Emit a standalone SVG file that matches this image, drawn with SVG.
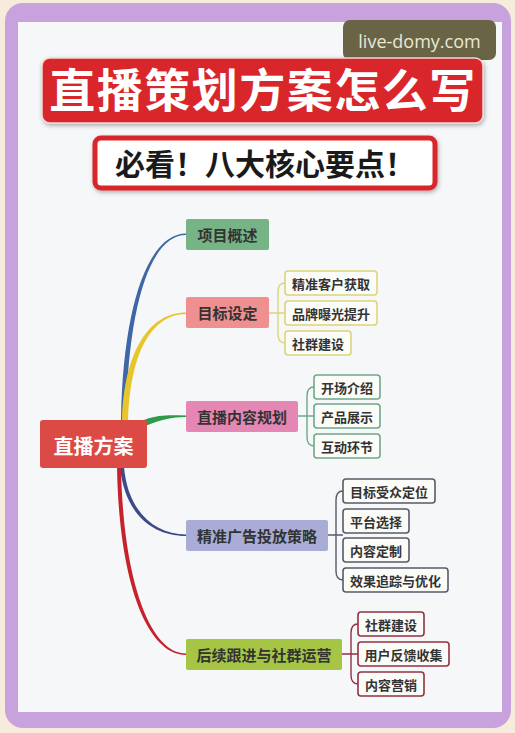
<svg xmlns="http://www.w3.org/2000/svg" width="515" height="733" viewBox="0 0 515 733">
<defs>
<filter id="sh" x="-10%" y="-20%" width="120%" height="150%"><feDropShadow dx="1" dy="2" stdDeviation="2" flood-color="#000" flood-opacity="0.3"/></filter>
<style>
.cjk{font-family:"Noto Sans CJK SC","Noto Sans",sans-serif;font-weight:700;}
.l1 text{font-size:15px;fill:#333;text-anchor:middle;dominant-baseline:central;}
.l2 text{font-size:13px;fill:#333;text-anchor:middle;dominant-baseline:central;}
.l1 rect{rx:2px;}
.l2 rect{fill:#fbfbf7;stroke-width:1.6;rx:3px;}
.y rect{stroke:#ddd47a;}
.g rect{stroke:#6ea88c;}
.n rect{stroke:#575b68;}
.m rect{stroke:#943043;}
.br{fill:none;stroke-width:1.4;}
</style>
</defs>
<rect x="0" y="0" width="515" height="733" fill="#f7ebdb"/>
<rect x="5" y="3" width="506" height="725" rx="18" fill="#c8a2dc"/>
<rect x="18" y="22" width="484" height="690" fill="#f6f7f9"/>

<g id="watermark">
<rect x="343" y="20" width="153" height="40" rx="7" fill="#6a6446"/>
<text x="419.5" y="48" font-family="'Open Sans','Noto Sans',sans-serif" font-size="18" fill="#ebe7d5" text-anchor="middle">live-domy.com</text>
</g>

<g id="title">
<rect x="42" y="58" width="441" height="65" rx="8" fill="#d9262b" stroke="#f3d6d6" stroke-width="1.5" filter="url(#sh)"/>
<text x="263" y="107" class="cjk" font-size="46" font-weight="900" fill="#fff" text-anchor="middle" letter-spacing="1.5">直播策划方案怎么写</text>
</g>
<g id="subtitle">
<rect x="95" y="138" width="340" height="50" rx="6" fill="#fff" stroke="#d9262b" stroke-width="5" filter="url(#sh)"/>
<text x="265" y="175" class="cjk" font-size="30" font-weight="900" fill="#1a1a1a" text-anchor="middle">必看！八大核心要点！</text>
</g>

<g id="connectors">
<path d="M121,421 C123,300 150,233.5 186,233.5 L186,235 C152,235 128,300 126,421 Z" fill="#3f67a6"/>
<path d="M122,421 C124,350 150,312.5 186,312.5 L186,314 C152,314 130,352 128,421 Z" fill="#e8c52a"/>
<path d="M144,420 C160,414 172,415.5 186,415.5 L186,417 C172,417 160,420 145,426 Z" fill="#2e9a4a"/>
<path d="M124,467 C128,512 155,534.5 186,534.5 L186,536 C153,536 125,515 120,467 Z" fill="#3c4a8a"/>
<path d="M121,467 C123,580 150,653.5 186,653.5 L186,655 C148,655 119,585 117,467 Z" fill="#c7222c"/>
<g class="br" stroke="#ddd47a">
<path d="M269,313 H285 M285,283 C280,283 278,286 278,292 V334 C278,340 280,343 285,343"/>
</g>
<g class="br" stroke="#6ea88c">
<path d="M298,416 H314 M314,387 C309,387 307,390 307,396 V437 C307,443 309,446 314,446"/>
</g>
<g class="br" stroke="#575b68">
<path d="M328,535 H343 M343,491 C338,491 336,494 336,500 V571 C336,577 338,580 343,580"/>
</g>
<g class="br" stroke="#943043">
<path d="M342,654 H358 M358,624 C353,624 351,627 351,633 V675 C351,681 353,684 358,684"/>
</g>
</g>

<g id="root">
<rect x="40" y="420" width="107" height="48" rx="3" fill="#dc4a45"/>
<text x="93.5" y="445" class="cjk" font-size="20" fill="#fff" text-anchor="middle" dominant-baseline="central">直播方案</text>
</g>

<g class="l1 cjk">
<g id="n-xmgs"><rect x="186" y="219" width="83" height="31" fill="#76b485"/><text x="227.5" y="234.5">项目概述</text></g>
<g id="n-mbsd"><rect x="186" y="297" width="83" height="31" fill="#ef8f8f"/><text x="227.5" y="312.5">目标设定</text></g>
<g id="n-zbnr"><rect x="186" y="401" width="112" height="31" fill="#e587b5"/><text x="242" y="416.5">直播内容规划</text></g>
<g id="n-jzgg"><rect x="186" y="520" width="142" height="31" fill="#a9acd5"/><text x="257" y="535.5">精准广告投放策略</text></g>
<g id="n-hxgj"><rect x="186" y="639" width="156" height="31" fill="#a6c545"/><text x="264" y="654.5">后续跟进与社群运营</text></g>
</g>

<g class="l2 cjk">
<g id="c1" class="y"><rect x="285" y="271" width="92" height="24"/><text x="331" y="283">精准客户获取</text></g>
<g id="c2" class="y"><rect x="285" y="301" width="92" height="24"/><text x="331" y="313">品牌曝光提升</text></g>
<g id="c3" class="y"><rect x="285" y="331" width="66" height="24"/><text x="318" y="343">社群建设</text></g>
<g id="c4" class="g"><rect x="314" y="375" width="66" height="24"/><text x="347" y="387">开场介绍</text></g>
<g id="c5" class="g"><rect x="314" y="404" width="66" height="24"/><text x="347" y="416">产品展示</text></g>
<g id="c6" class="g"><rect x="314" y="434" width="66" height="24"/><text x="347" y="446">互动环节</text></g>
<g id="c7" class="n"><rect x="343" y="479" width="92" height="24"/><text x="389" y="491">目标受众定位</text></g>
<g id="c8" class="n"><rect x="343" y="509" width="66" height="24"/><text x="376" y="521">平台选择</text></g>
<g id="c9" class="n"><rect x="343" y="538" width="66" height="24"/><text x="376" y="550">内容定制</text></g>
<g id="c10" class="n"><rect x="343" y="568" width="105" height="24"/><text x="395.5" y="580">效果追踪与优化</text></g>
<g id="c11" class="m"><rect x="358" y="612" width="66" height="24"/><text x="391" y="624">社群建设</text></g>
<g id="c12" class="m"><rect x="358" y="642" width="91" height="24"/><text x="403.5" y="654">用户反馈收集</text></g>
<g id="c13" class="m"><rect x="358" y="672" width="66" height="24"/><text x="391" y="684">内容营销</text></g>
</g>
</svg>
